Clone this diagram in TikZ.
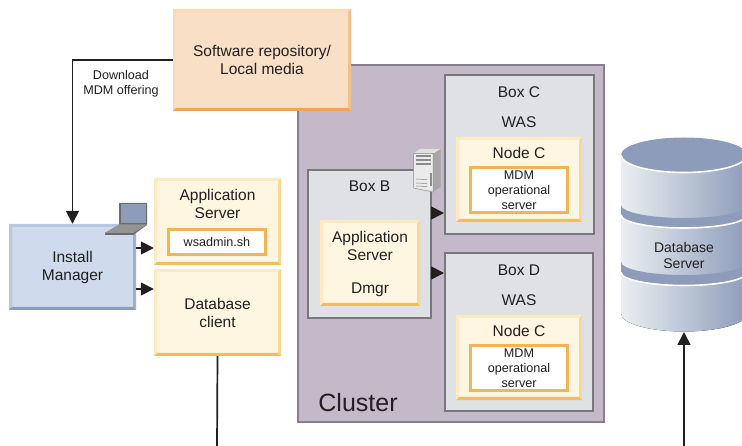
\documentclass[tikz,border=0pt]{standalone}
\usepackage{fontspec}
\setmainfont{Liberation Sans}
\usetikzlibrary{positioning,calc,arrows.meta}
\definecolor{inkblack}{HTML}{231F20}
\definecolor{clusterfill}{HTML}{C3B9C9}
\definecolor{clusterline}{HTML}{8B7D92}
\definecolor{boxfill}{HTML}{DFE1E4}
\definecolor{boxline}{HTML}{77787B}
\definecolor{dbdark}{HTML}{8E9CBB}
\definecolor{dblight}{HTML}{E9EFF1}
\definecolor{nodefill}{HTML}{FEF6E1}
\definecolor{nodetop}{HTML}{FDE9C2}
\definecolor{nodeside}{HTML}{F9D896}
\definecolor{nodebottom}{HTML}{F3BE58}
\definecolor{innerline}{HTML}{F4B455}
\definecolor{repofill}{HTML}{F8DFC5}
\definecolor{repotop}{HTML}{FADBB9}
\definecolor{reposide}{HTML}{F3C08C}
\definecolor{repobottom}{HTML}{EBA65C}
\definecolor{imfill}{HTML}{CFDAEC}
\definecolor{imtop}{HTML}{B9C7E0}
\definecolor{imside}{HTML}{9FB0CF}
\definecolor{imbottom}{HTML}{8B9CBF}
\tikzset{
	bevelbox/.style n args={4}{fill=#1, inner sep=0pt, align=center, font=\fontsize{15.5}{18}\selectfont, text=inkblack,
		path picture={
			\def\pb{path picture bounding box}
			\fill[#2] (\pb.south west) -- (\pb.north west) -- (\pb.north east)
				-- ([xshift=-3pt,yshift=-3pt]\pb.north east) -- ([xshift=3pt,yshift=-3pt]\pb.north west)
				-- ([xshift=3pt,yshift=3pt]\pb.south west) -- cycle;
			\fill[#3] (\pb.north east) -- (\pb.south east) -- ([xshift=-3pt,yshift=3pt]\pb.south east)
				-- ([xshift=-3pt,yshift=-3pt]\pb.north east) -- cycle;
			\fill[#4] (\pb.south west) -- (\pb.south east) -- ([xshift=-3pt,yshift=3pt]\pb.south east)
				-- ([xshift=3pt,yshift=3pt]\pb.south west) -- cycle;
		}},
	yellowbox/.style={bevelbox={nodefill}{nodetop}{nodeside}{nodebottom}},
	flow/.style={line width=1.7pt, draw=inkblack, -{Triangle[length=13pt,width=13pt]}},
	wire/.style={line width=1.7pt, draw=inkblack},
	whitebox/.style={draw=innerline, line width=2.2pt, fill=white, inner sep=0pt, align=center, text=inkblack},
	greybox/.style={draw=boxline, line width=2pt, fill=boxfill},
	label/.style={align=center, inner sep=0pt, text=inkblack, font=\fontsize{15.5}{18}\selectfont},
	smalllabel/.style={align=center, inner sep=0pt, text=inkblack, font=\fontsize{12.6}{15}\selectfont},
}
\begin{document}
\begin{tikzpicture}[x=1pt, y=-1pt]
	\useasboundingbox (0,0) rectangle (742,446);
	% cluster
	\node[draw=clusterline, line width=2pt, fill=clusterfill, minimum width=306pt, minimum height=357pt, inner sep=0pt] (cluster) at (451,243.5) {};
	\node[inner sep=0pt, text=inkblack, font=\fontsize{25}{28}\selectfont] (clustername) at (358,402.5) {Cluster};
	% download wire and repository
	\node[bevelbox={repofill}{repotop}{reposide}{repobottom}, minimum width=178pt, minimum height=102pt] (repo) at (262,60) {Software repository/\\Local media};
	\node[bevelbox={imfill}{imtop}{imside}{imbottom}, minimum width=127pt, minimum height=86pt] (install) at (72.5,267) {Install\\Manager};
	\draw[flow] (repo.west) -| (install.north);
	\node[smalllabel] (download) at (121,83.5) {Download\\MDM offering};
	% left hand servers
	\node[yellowbox, minimum width=127pt, minimum height=87pt] (appsrv) at (217.5,221.5) {};
	\node[label] (appname) at (217.5,203.5) {Application\\Server};
	\node[whitebox, minimum width=97pt, minimum height=25pt, font=\fontsize{12.6}{14}\selectfont] (wsadmin) at (217,242) {wsadmin.sh};
	\node[yellowbox, minimum width=127pt, minimum height=87pt] (dbclient) at (217.5,312.5) {Database\\client};
	\draw[flow] ([yshift=19pt]install.east) -- ([yshift=-26.5pt]appsrv.west);
	\draw[flow] ([yshift=-22pt]install.east) -- ([yshift=23.5pt]dbclient.west);
	\coordinate (dbclientend) at (217,446);
	\draw[wire] (dbclient.south) -- (dbclientend);
	% laptop
	\fill[black!58] (119,203) -- (147,203) -- (147,225) -- (133,235) -- (105,235) -- (105,233) -- (119,225) -- cycle;
	\fill[black!42] (105,233) -- (119,224.5) -- (147,224.5) -- (133,233) -- cycle;
	\fill[dbdark] (120.5,204.5) -- (145.5,204.5) -- (145.5,223.5) -- (120.5,223.5) -- cycle;
	% box b
	\node[greybox, minimum width=123pt, minimum height=148pt] (boxb) at (369.5,244) {};
	\node[label] (boxbname) at (369.5,186.5) {Box B};
	\node[yellowbox, minimum width=100pt, minimum height=86pt] (dmgr) at (370,263) {};
	\node[label] (dmgrname) at (370,245.5) {Application\\Server};
	\node[label] (dmgrtext) at (370,289.5) {Dmgr};
	% box c
	\node[greybox, minimum width=149pt, minimum height=159pt] (boxc) at (519.5,154.5) {};
	\node[label] (boxcname) at (519,92.5) {Box C};
	\node[label] (boxcwas) at (519,122.5) {WAS};
	\node[yellowbox, minimum width=126pt, minimum height=85pt] (nodec) at (519,179.5) {};
	\node[label] (nodecname) at (519,152.5) {Node C};
	\node[whitebox, minimum width=97pt, minimum height=45pt, font=\fontsize{12.6}{15}\selectfont] (mdmc) at (519,190) {MDM\\operational\\server};
	% box d
	\node[greybox, minimum width=148pt, minimum height=158pt] (boxd) at (519,332) {};
	\node[label] (boxdname) at (519,270.5) {Box D};
	\node[label] (boxdwas) at (519,300.5) {WAS};
	\node[yellowbox, minimum width=126pt, minimum height=85pt] (noded) at (519,357.5) {};
	\node[label] (nodedname) at (519,330.5) {Node C};
	\node[whitebox, minimum width=97pt, minimum height=45pt, font=\fontsize{12.6}{15}\selectfont] (mdmd) at (519,368) {MDM\\operational\\server};
	\draw[flow] ([yshift=31pt]boxb.east) -- ([yshift=-58.5pt]boxc.west);
	\draw[flow] ([yshift=-29pt]boxb.east) -- ([yshift=59pt]boxd.west);
	% server icon
	\fill[black!35] (433,152) -- (440.5,149) -- (440.5,187) -- (433,192) -- cycle;
	\fill[black!12] (413.5,153.5) -- (420,149) -- (440.5,149) -- (433,153.5) -- cycle;
	\filldraw[draw=black!45, fill=black!8, line width=0.5pt] (413.5,153.5) -- (433,153.5) -- (433,192) -- (413.5,188) -- cycle;
	\foreach \ypos in {156,160,164}
		\draw[black!45, line width=2pt] (416,\ypos) -- (431,\ypos);
	\foreach \ypos in {179,183,186}
		\draw[black!50, line width=0.5pt] (416,\ypos) -- (427,\ypos+0.5);
	\draw[black!45, line width=2pt] (431,173) -- (431,186);
	% database
	\begin{scope}
		\clip (600,120) rectangle (742,346);
		\fill[left color=dblight, right color=dbdark] (621,155) -- (621,313.5) arc[start angle=180, end angle=0, x radius=63, y radius=18] -- (747,155) -- cycle;
		\fill[dbdark] (621,205) arc[start angle=180, end angle=0, x radius=63, y radius=13] -- (747,215) arc[start angle=0, end angle=180, x radius=63, y radius=13] -- cycle;
		\fill[dbdark] (621,262) arc[start angle=180, end angle=0, x radius=63, y radius=13] -- (747,272) arc[start angle=0, end angle=180, x radius=63, y radius=13] -- cycle;
		\draw[white, line width=1.6pt] (621,215) arc[start angle=180, end angle=0, x radius=63, y radius=13];
		\draw[white, line width=1.6pt] (621,272.5) arc[start angle=180, end angle=0, x radius=63, y radius=13];
		\fill[dbdark] (684,155) ellipse[x radius=63, y radius=17.5];
		\draw[white, line width=1.6pt] (621,155) arc[start angle=180, end angle=0, x radius=63, y radius=17.5];
	\end{scope}
	\node[align=center, inner sep=0pt, text=inkblack, font=\fontsize{14}{16}\selectfont] (dbserver) at (684,255.5) {Database\\Server};
	\coordinate (dbserverbase) at (684,332);
	\coordinate (dbserverend) at (684,446);
	\draw[flow] (dbserverend) -- (dbserverbase);
\end{tikzpicture}
\end{document}
